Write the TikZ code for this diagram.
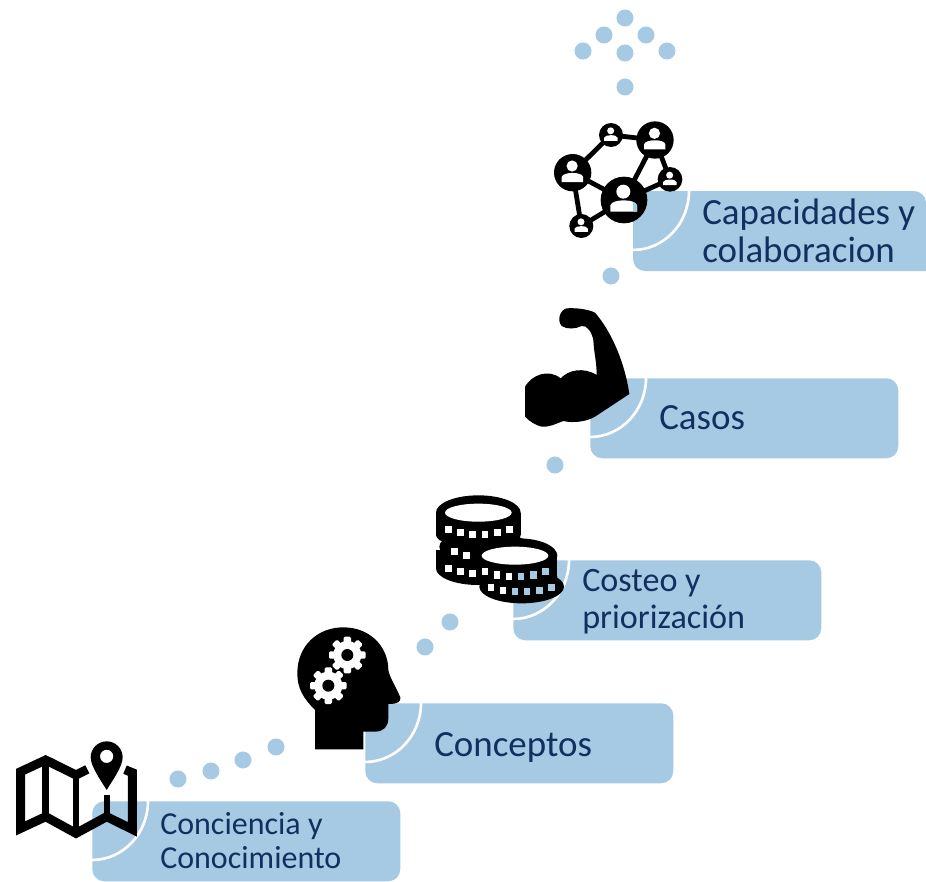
\documentclass[tikz,border=0pt]{standalone}
\usepackage{fontspec}
\setmainfont{Carlito}
\definecolor{boxblue}{HTML}{A6CAE3}
\definecolor{inkblue}{HTML}{12305F}
\tikzset{
  stepbox/.style={fill=boxblue,rounded corners=9pt,minimum width=231pt,minimum height=60pt,inner sep=0pt,anchor=north west},
  steparc/.style={white,line width=2pt},
  dotnode/.style={circle,fill=boxblue,minimum size=12.8pt,inner sep=0pt},
  steptext/.style={text=inkblue,anchor=west,align=left,inner sep=0pt},
  zoomA/.style={x=.25pt,y=-.25pt,shift={(0pt,-465pt)}},
  zoomB/.style={x=.25pt,y=-.25pt,shift={(315pt,-217.5pt)}},
  zoomC/.style={x=.25pt,y=-.25pt,shift={(405pt,0pt)}},
  mapline/.style={black,line width=6.75pt,line join=miter}
}
\newcommand{\mygear}[2]{%
  \begin{scope}[shift={(#1,#2)}]
    \fill[white] (0,0) circle[radius=42];
    \foreach \a in {0,45,90,135}{
      \fill[white,rotate=\a,rounded corners=1pt] (-11,-55) rectangle (11,55);
    }
    \fill[black] (0,0) circle[radius=18];
  \end{scope}}
\newcommand{\myperson}[4]{%
  \begin{scope}[shift={(#1,#2)},scale=#3]
    \fill[#4] (-2,-25) circle[radius=21];
    \fill[#4] (-41,35) -- (-41,16) .. controls (-38,6) and (-20,1) .. (-1,1) .. controls (20,1) and (36,6) .. (39,16) -- (39,35) -- cycle;
  \end{scope}}
\newcommand{\coinsq}[3]{\fill[#3] (#1-10,#2-11) rectangle (#1+10,#2+11);}
\begin{document}
\begin{tikzpicture}[x=.75pt,y=-.75pt,font=\fontsize{27.7pt}{28.5pt}\selectfont]
\path[use as bounding box] (0,0) rectangle (926,882);

% boxes
\node[stepbox] (b1) at (92,801) {};
\node[stepbox] (b2) at (365,703) {};
\node[stepbox] (b3) at (513,560) {};
\node[stepbox] (b4) at (590,378) {};
\path[fill=boxblue] (926,271) [rounded corners=9pt] -- (633,271) -- (633,191) -- (926,191) [sharp corners] -- cycle;

% arcs
\draw[steparc] (148,801) arc[start angle=0,end angle=90,x radius=56,y radius=59];
\draw[steparc] (421,703) arc[start angle=0,end angle=90,x radius=56,y radius=59];
\draw[steparc] (569,560) arc[start angle=0,end angle=90,x radius=56,y radius=59];
\draw[steparc] (646,378) arc[start angle=0,end angle=90,x radius=56,y radius=59];
\draw[steparc] (689,191) arc[start angle=0,end angle=90,x radius=56,y radius=59];

% labels
\node[steptext,font=\fontsize{24pt}{25.5pt}\selectfont] (t1) at (160,841) {Conciencia y\\Conocimiento};
\node[steptext] (t2) at (434,747) {Conceptos};
\node[steptext,font=\fontsize{25.6pt}{28pt}\selectfont] (t3) at (582,602) {Costeo y\\priorización};
\node[steptext] (t4) at (659,418) {Casos};
\node[steptext] (t5) at (702,231) {Capacidades y\\colaboracion};

% dots
\foreach \n/\x/\y in {d1/625/18,d2/604/35,d3/646/35,d4/583/51,d5/625/53,d6/667/51,d7/625/87,d8/611/276,d9/555/465,d10/450/622,d11/425/647,d12/276/747,d13/243/760,d14/211/771,d15/178/779}{
  \node[dotnode] (\n) at (\x,\y) {};
}

% map icon
\begin{scope}[zoomA]
  \draw[mapline] (262,448) -- (228,465) -- (137,420) -- (62,455) -- (62,625) -- (137,590) -- (228,640) -- (320,590) -- (397,628) -- (397,458) -- (375,449);
  \draw[black,line width=5.5pt] (137,420) -- (137,590);
  \draw[black,line width=4pt] (228,465) -- (228,640);
  \draw[black,line width=4.5pt] (320,525) -- (320,590);
  \fill[black,even odd rule] (320,510) .. controls (305,485) and (272,440) .. (272,412) arc[start angle=180,end angle=360,radius=48] .. controls (368,440) and (335,485) .. (320,510) -- cycle (340,409) arc[start angle=0,end angle=360,radius=20];
\end{scope}

% head icon
\begin{scope}[zoomA]
  \fill[black] (945,388) -- (945,270) .. controls (910,235) and (892,205) .. (892,160) .. controls (892,75) and (955,22) .. (1030,22) .. controls (1110,22) and (1165,80) .. (1165,150) .. controls (1170,175) and (1190,205) .. (1201,232) .. controls (1203,245) and (1195,252) .. (1165,252) -- (1165,295) .. controls (1165,320) and (1150,335) .. (1125,335) -- (1090,335) -- (1090,388) -- cycle;
  \mygear{1042}{105}
  \mygear{985}{197}
\end{scope}

% coins icon
\begin{scope}[zoomB]
  \fill[black] (175,668) ellipse[x radius=127,y radius=52];
  \fill[black] (48,668) rectangle (302,735);
  \fill[black] (175,735) ellipse[x radius=127,y radius=38];
  \fill[black] (190,770) ellipse[x radius=132,y radius=50];
  \fill[black] (48,780) rectangle (300,835);
  \fill[black] (175,835) ellipse[x radius=127,y radius=50];
  \fill[white] (175,668) ellipse[x radius=100,y radius=27];
  \foreach \x/\y in {85/718,122/728,158/733,195/733,232/727,268/718,103/785,140/797,85/835,122/845,158/850}{
    \coinsq{\x}{\y}{white}
  }
  \fill[black] (295,797) ellipse[x radius=117,y radius=52];
  \fill[black] (178,797) rectangle (412,860);
  \fill[black] (295,860) ellipse[x radius=117,y radius=38];
  \fill[black] (305,890) ellipse[x radius=127,y radius=50];
  \fill[white] (285,797) ellipse[x radius=100,y radius=27];
  \foreach \x/\y in {195/845,231/855,267/859,213/892,249/902}{
    \coinsq{\x}{\y}{white}
  }
  \foreach \x/\y in {303/859,340/855,376/845,285/905,321/905,358/902,394/892}{
    \coinsq{\x}{\y}{boxblue}
  }
\end{scope}

% arm icon
\begin{scope}[zoomB]
  \fill[black] (315,290) .. controls (335,255) and (385,235) .. (422,265) .. controls (445,240) and (490,230) .. (530,255) .. controls (530,215) and (522,190) .. (520,150) .. controls (515,125) and (500,105) .. (485,108) .. controls (465,118) and (440,118) .. (425,108) .. controls (410,90) and (420,60) .. (440,55) .. controls (470,53) and (505,58) .. (525,68) .. controls (575,125) and (615,220) .. (628,312) -- (525,380) .. controls (500,395) and (460,400) .. (430,393) .. controls (410,400) and (390,412) .. (365,410) .. controls (345,405) and (330,395) .. (315,380) -- cycle;
\end{scope}

% network icon
\begin{scope}[zoomC]
  \draw[black,line width=3.6pt] (98,518) -- (213,405) -- (345,420) -- (390,538) -- (252,600) -- (345,420);
  \draw[black,line width=3.6pt] (98,518) -- (252,600) -- (124,678) -- (98,518);
  \fill[black] (98,518) circle[radius=56];
  \fill[black] (213,405) circle[radius=36];
  \fill[black] (345,420) circle[radius=56];
  \fill[black] (390,538) circle[radius=37];
  \fill[black] (252,600) circle[radius=70];
  \fill[black] (124,678) circle[radius=36];
  \myperson{98}{518}{.8}{white}
  \myperson{213}{405}{.5}{white}
  \myperson{345}{420}{.8}{white}
  \myperson{390}{538}{.5}{white}
  \myperson{252}{600}{1}{white}
  \myperson{124}{678}{.5}{white}
  \begin{scope}
    \clip (279,573) rectangle (400,700);
    \myperson{252}{600}{1}{boxblue}
  \end{scope}
\end{scope}
\end{tikzpicture}
\end{document}
